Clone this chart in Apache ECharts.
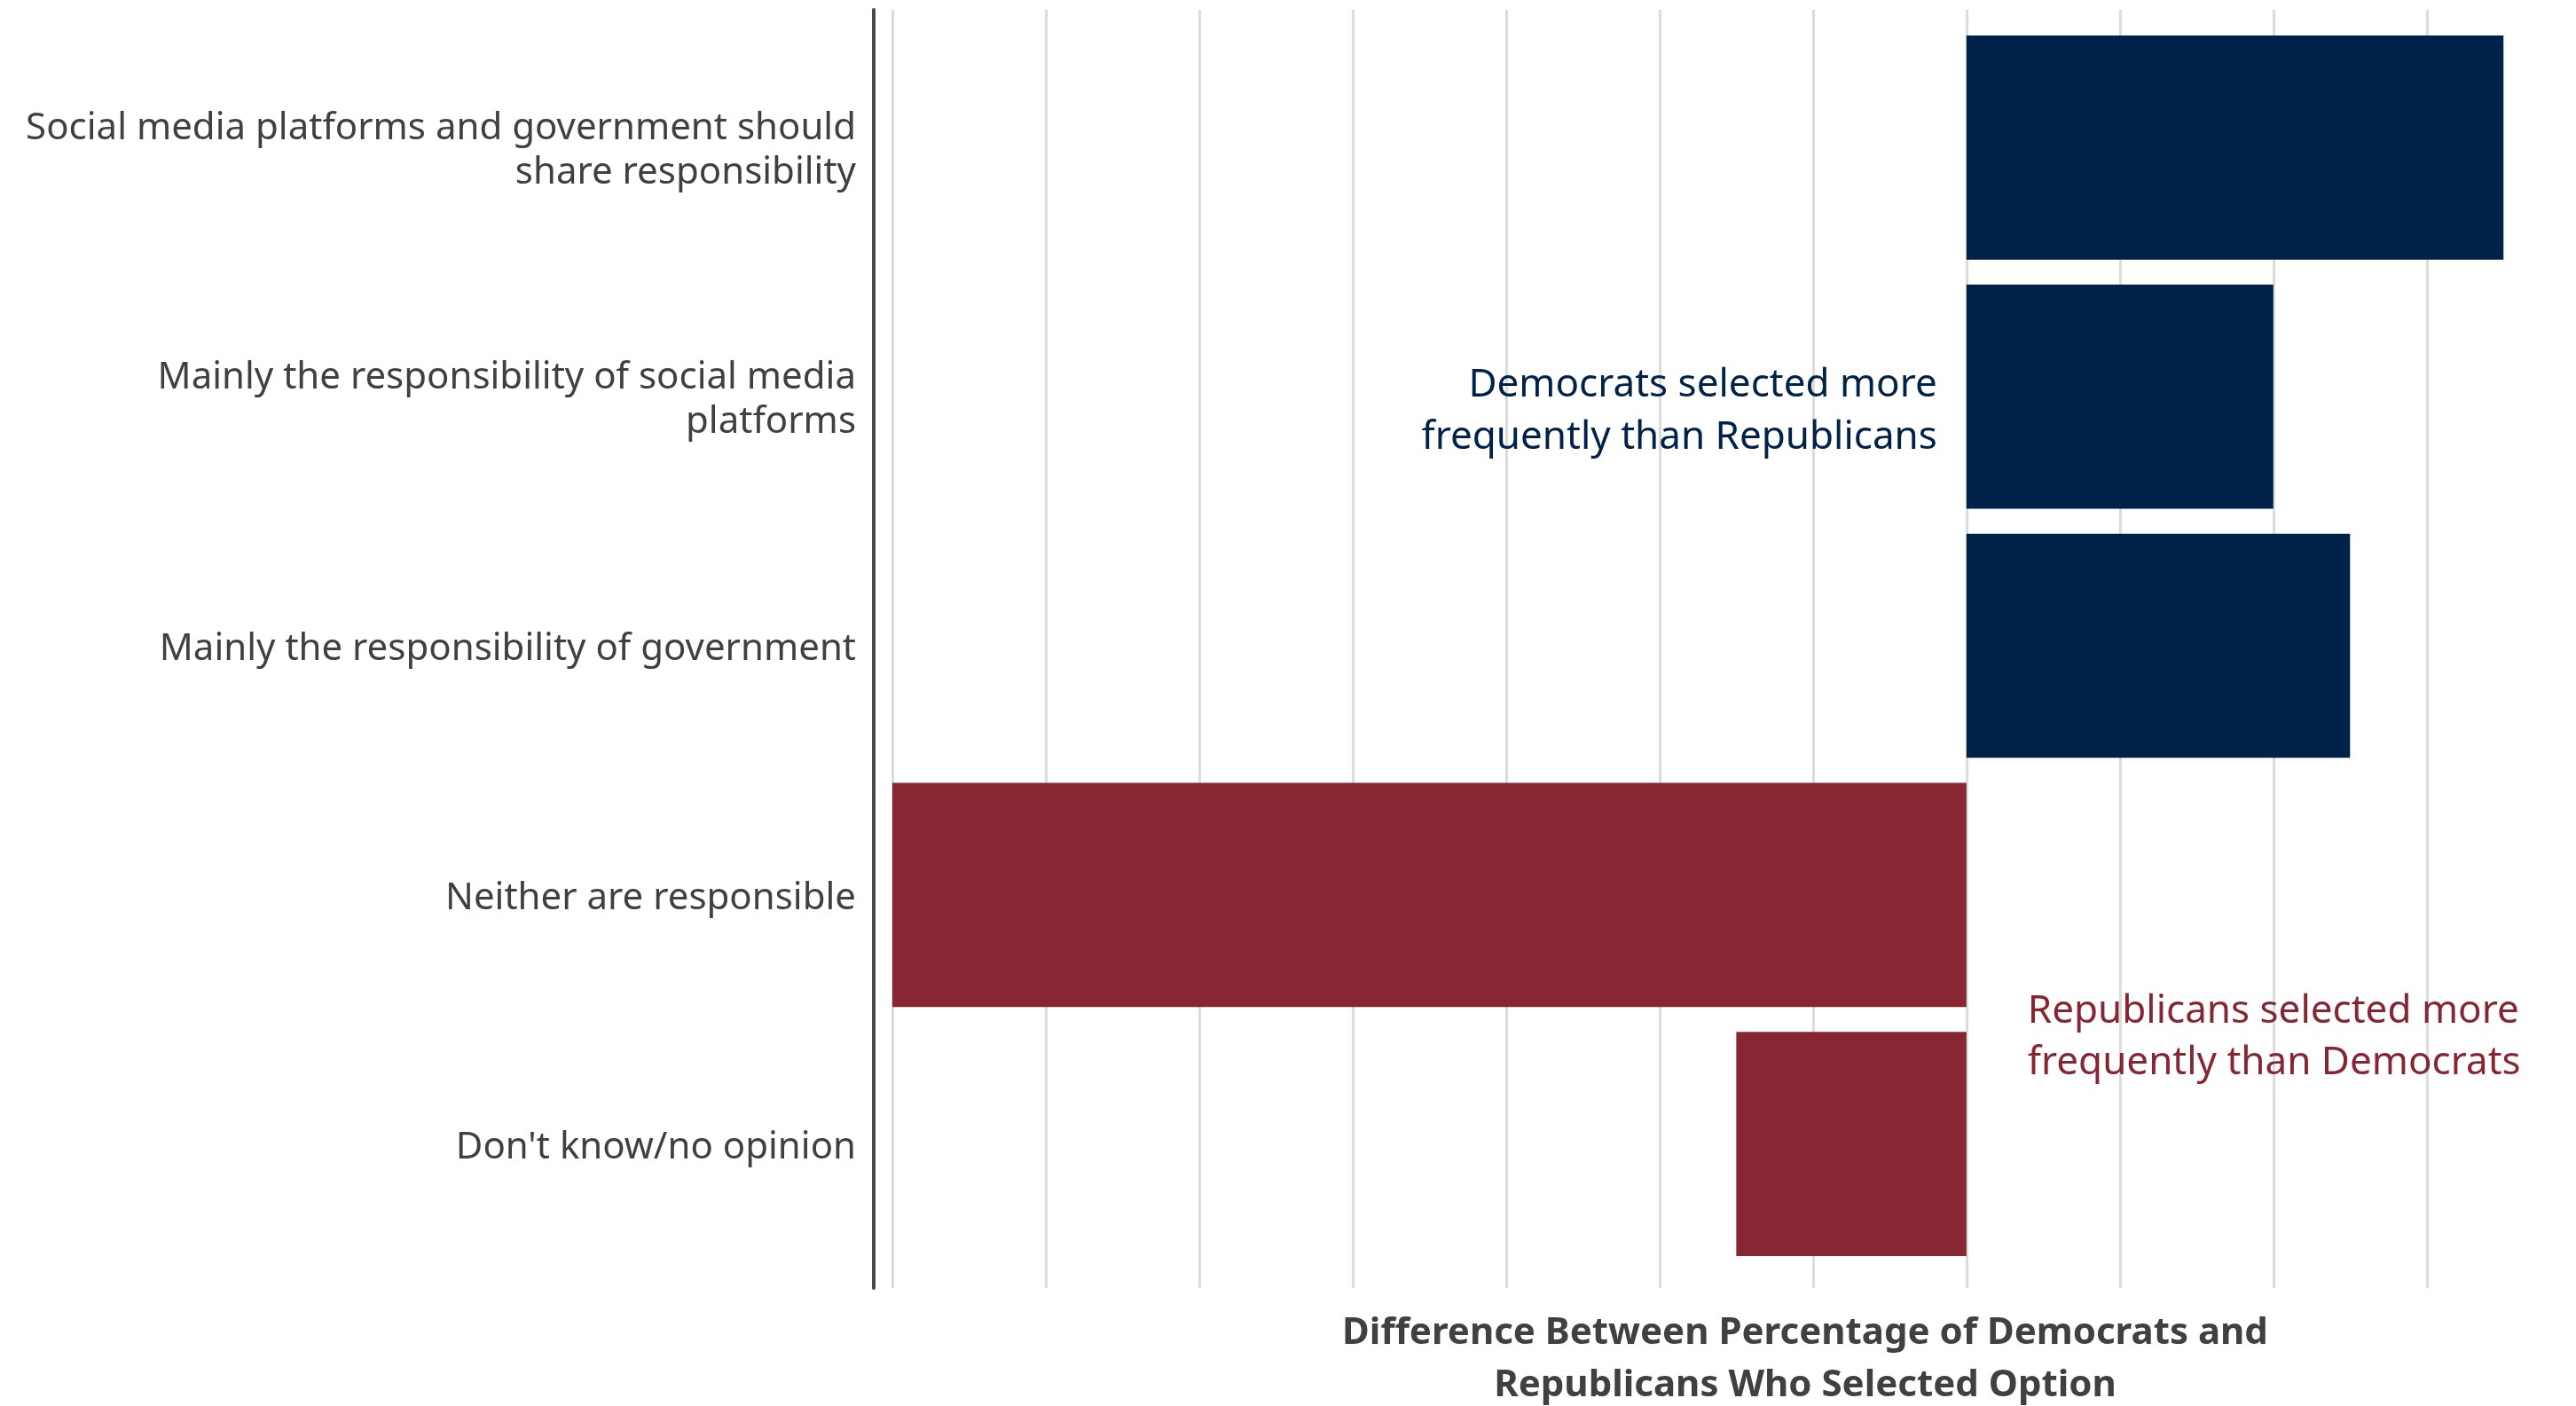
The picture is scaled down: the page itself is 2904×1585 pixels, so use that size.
<!DOCTYPE html>
<html>
<head>
<meta charset="utf-8">
<script src="https://cdn.jsdelivr.net/npm/echarts@6/dist/echarts.min.js"></script>
<style>
  html, body { margin: 0; padding: 0; background: #ffffff; }
  #chart { width: 2904px; height: 1585px; }
</style>
</head>
<body>
<div id="chart"></div>
<script>
// Response options, top to bottom
const categories = [
  'Social media platforms and government should\nshare responsibility',
  'Mainly the responsibility of social media\nplatforms',
  'Mainly the responsibility of government',
  'Neither are responsible',
  "Don't know/no opinion"
];
// Percentage of Democrats minus percentage of Republicans (points)
const differences = [3.5, 2.0, 2.5, -7.0, -1.5];

const xMin = -7;
const xMax = 3.62;
const DEM_COLOR = '#002249';
const REP_COLOR = '#862633';
const TEXT_COLOR = '#404040';
const FONT = '"Noto Sans", sans-serif';

const chart = echarts.init(document.getElementById('chart'));

chart.setOption({
  backgroundColor: '#ffffff',
  animation: false,
  textStyle: { fontFamily: FONT },
  grid: [
    // full panel: gridlines and left axis rule
    { left: 1006, right: 61, top: 11, height: 1441 },
    // bar bands
    { left: 1006, right: 61, top: 26, height: 1404 },
    // category label bands (text sits slightly below the bar centre)
    { left: 1006, right: 61, top: 30, height: 1404 }
  ],
  xAxis: [
    {
      type: 'value', gridIndex: 0, min: xMin, max: xMax, interval: 1,
      axisLine: { show: false }, axisTick: { show: false }, axisLabel: { show: false },
      splitLine: { show: true, showMaxLine: false, lineStyle: { color: '#dcdcdc', width: 3 } }
    },
    {
      type: 'value', gridIndex: 1, min: xMin, max: xMax, show: false,
      splitLine: { show: false }
    },
    {
      type: 'value', gridIndex: 2, min: xMin, max: xMax, show: false,
      splitLine: { show: false }
    }
  ],
  yAxis: [
    {
      type: 'value', gridIndex: 0, min: 0, max: 1, offset: 21, position: 'left',
      axisLine: { show: true, onZero: false, lineStyle: { color: '#4a4a4a', width: 4 } },
      axisTick: { show: false }, axisLabel: { show: false }, splitLine: { show: false }
    },
    {
      type: 'category', gridIndex: 1, data: categories, inverse: true,
      axisLine: { show: false, onZero: false }, axisTick: { show: false },
      axisLabel: { show: false }
    },
    {
      type: 'category', gridIndex: 2, data: categories, inverse: true, offset: 21,
      axisLine: { show: false, onZero: false }, axisTick: { show: false },
      axisLabel: {
        color: TEXT_COLOR, fontSize: 42, fontFamily: FONT,
        margin: 20, align: 'right', lineHeight: 50
      }
    }
  ],
  series: [{
    type: 'bar',
    xAxisIndex: 1, yAxisIndex: 1,
    barCategoryGap: '10%',
    data: differences.map(v => ({
      value: v,
      itemStyle: { color: v >= 0 ? DEM_COLOR : REP_COLOR }
    }))
  }]
});

// Side notes anchored to the zero line
const zeroX = chart.convertToPixel({ xAxisIndex: 1 }, 0);
chart.setOption({
  graphic: [
    {
      type: 'text', x: zeroX - 33, y: 464,
      style: {
        text: 'Democrats selected more\nfrequently than Republicans',
        fill: DEM_COLOR, font: '44px ' + FONT, lineHeight: 59,
        align: 'right', verticalAlign: 'middle'
      }
    },
    {
      type: 'text', x: zeroX + 69, y: 1169,
      style: {
        text: 'Republicans selected more\nfrequently than Democrats',
        fill: REP_COLOR, font: '44px ' + FONT, lineHeight: 58,
        align: 'left', verticalAlign: 'middle'
      }
    },
    {
      type: 'text', x: 2035, y: 1533,
      style: {
        text: 'Difference Between Percentage of Democrats and\nRepublicans Who Selected Option',
        fill: TEXT_COLOR, font: 'bold 42px ' + FONT, lineHeight: 59,
        align: 'center', verticalAlign: 'middle'
      }
    }
  ]
});
</script>
</body>
</html>
